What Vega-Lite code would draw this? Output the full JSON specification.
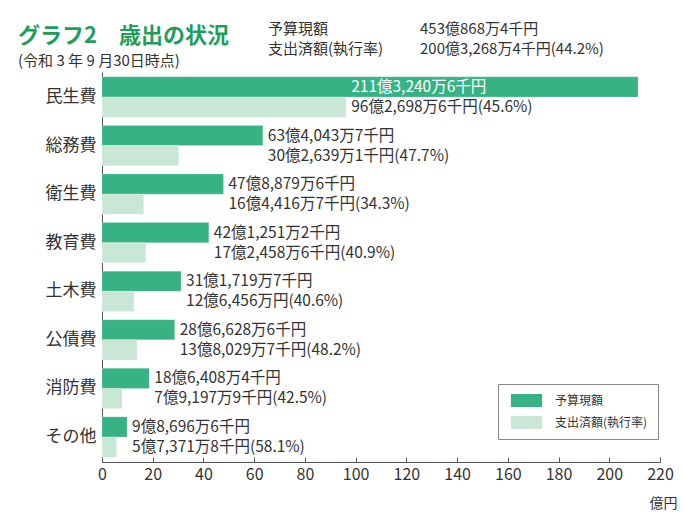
{
  "$schema": "https://vega.github.io/schema/vega-lite/v6.json",
  "width": 558,
  "height": 390,
  "autosize": {"type": "none"},
  "padding": {"left": 102, "top": 72, "right": 23, "bottom": 66},
  "background": "white",
  "config": {
    "view": {"stroke": null},
    "font": "Noto Sans CJK JP",
    "text": {"font": "Noto Sans CJK JP"}
  },
  "title": {
    "text": "グラフ2　歳出の状況",
    "subtitle": "(令和 3 年 9 月30日時点)",
    "anchor": "start",
    "frame": "group",
    "dx": -84,
    "dy": 58,
    "offset": 10,
    "fontSize": 22,
    "fontWeight": "bold",
    "color": "#1e9e5c",
    "subtitleFontSize": 15,
    "subtitleColor": "#333333",
    "subtitlePadding": 6
  },
  "datasets": {
    "bars": [
      {"cat": "民生費", "series": "予算現額", "value": 211.32406, "label": "211億3,240万6千円"},
      {"cat": "民生費", "series": "支出済額(執行率)", "value": 96.26986, "label": "96億2,698万6千円(45.6%)"},
      {"cat": "総務費", "series": "予算現額", "value": 63.40437, "label": "63億4,043万7千円"},
      {"cat": "総務費", "series": "支出済額(執行率)", "value": 30.26391, "label": "30億2,639万1千円(47.7%)"},
      {"cat": "衛生費", "series": "予算現額", "value": 47.88796, "label": "47億8,879万6千円"},
      {"cat": "衛生費", "series": "支出済額(執行率)", "value": 16.44167, "label": "16億4,416万7千円(34.3%)"},
      {"cat": "教育費", "series": "予算現額", "value": 42.12512, "label": "42億1,251万2千円"},
      {"cat": "教育費", "series": "支出済額(執行率)", "value": 17.24586, "label": "17億2,458万6千円(40.9%)"},
      {"cat": "土木費", "series": "予算現額", "value": 31.17197, "label": "31億1,719万7千円"},
      {"cat": "土木費", "series": "支出済額(執行率)", "value": 12.6456, "label": "12億6,456万円(40.6%)"},
      {"cat": "公債費", "series": "予算現額", "value": 28.66286, "label": "28億6,628万6千円"},
      {"cat": "公債費", "series": "支出済額(執行率)", "value": 13.80297, "label": "13億8,029万7千円(48.2%)"},
      {"cat": "消防費", "series": "予算現額", "value": 18.64084, "label": "18億6,408万4千円"},
      {"cat": "消防費", "series": "支出済額(執行率)", "value": 7.91979, "label": "7億9,197万9千円(42.5%)"},
      {"cat": "その他", "series": "予算現額", "value": 9.86966, "label": "9億8,696万6千円"},
      {"cat": "その他", "series": "支出済額(執行率)", "value": 5.73718, "label": "5億7,371万8千円(58.1%)"}
    ],
    "header": [
      {"items": ["予算現額", "支出済額(執行率)"], "amounts": ["453億868万4千円", "200億3,268万4千円(44.2%)"]}
    ]
  },
  "data": {"name": "bars"},
  "layer": [
    {
      "mark": {"type": "bar", "stroke": "white", "strokeWidth": 0.5, "strokeOpacity": 0.4},
      "encoding": {
        "y": {
          "field": "cat",
          "type": "nominal",
          "sort": null,
          "title": null,
          "scale": {"paddingInner": 0.17, "paddingOuter": 0.1},
          "axis": {
            "labelFontSize": 17,
            "labelColor": "#333333",
            "labelPadding": 6,
            "ticks": false,
            "domainColor": "#555555",
            "domainWidth": 1
          }
        },
        "yOffset": {"field": "series", "type": "nominal", "sort": ["予算現額", "支出済額(執行率)"]},
        "x": {
          "field": "value",
          "type": "quantitative",
          "scale": {"domain": [0, 220], "nice": false},
          "title": "億円",
          "axis": {
            "values": [0, 20, 40, 60, 80, 100, 120, 140, 160, 180, 200, 220],
            "grid": false,
            "tickSize": -5,
            "tickColor": "#555555",
            "domainColor": "#555555",
            "labelFontSize": 16,
            "labelColor": "#333333",
            "labelPadding": 9,
            "labelFlush": false,
            "titleFontSize": 14,
            "titleFontWeight": "normal",
            "titleColor": "#333333",
            "titleAnchor": "end",
            "titleAlign": "right",
            "titleX": 575,
            "titleY": 34
          }
        },
        "color": {
          "field": "series",
          "type": "nominal",
          "sort": ["予算現額", "支出済額(執行率)"],
          "scale": {"range": ["#37b285", "#c9e7d7"]},
          "legend": {
            "title": null,
            "orient": "none",
            "legendX": 396,
            "legendY": 312,
            "symbolType": "M-2.4,-1H2.4V1H-2.4Z",
            "symbolSize": 169,
            "symbolStrokeWidth": 0,
            "symbolOffset": 12,
            "labelOffset": 22,
            "labelFontSize": 12,
            "labelColor": "#333333",
            "rowPadding": 9,
            "padding": 10,
            "strokeColor": "#888888",
            "fillColor": "white"
          }
        }
      }
    },
    {
      "transform": [
        {"joinaggregate": [{"op": "max", "field": "value", "as": "budget"}], "groupby": ["cat"]},
        {"filter": "datum.cat !== '民生費'"}
      ],
      "mark": {"type": "text", "align": "left", "baseline": "middle", "dx": 5, "fontSize": 15.5, "color": "#333333"},
      "encoding": {
        "y": {"field": "cat", "type": "nominal", "sort": null},
        "yOffset": {"field": "series", "type": "nominal", "sort": ["予算現額", "支出済額(執行率)"]},
        "x": {"field": "budget", "type": "quantitative"},
        "text": {"field": "label"}
      }
    },
    {
      "transform": [
        {"joinaggregate": [{"op": "min", "field": "value", "as": "spent"}], "groupby": ["cat"]},
        {"filter": "datum.cat === '民生費'"}
      ],
      "mark": {"type": "text", "align": "left", "baseline": "middle", "dx": 5, "fontSize": 15.5},
      "encoding": {
        "y": {"field": "cat", "type": "nominal", "sort": null},
        "yOffset": {"field": "series", "type": "nominal", "sort": ["予算現額", "支出済額(執行率)"]},
        "x": {"field": "spent", "type": "quantitative"},
        "text": {"field": "label"},
        "color": {
          "condition": {"test": "datum.series === '予算現額'", "value": "white"},
          "value": "#333333"
        }
      }
    },
    {
      "data": {"name": "header"},
      "mark": {"type": "text", "align": "left", "baseline": "top", "fontSize": 15, "lineHeight": 20, "color": "#333333", "x": 166, "y": -50},
      "encoding": {"text": {"field": "items"}}
    },
    {
      "data": {"name": "header"},
      "mark": {"type": "text", "align": "left", "baseline": "top", "fontSize": 15, "lineHeight": 20, "color": "#333333", "x": 318, "y": -50},
      "encoding": {"text": {"field": "amounts"}}
    }
  ]
}
